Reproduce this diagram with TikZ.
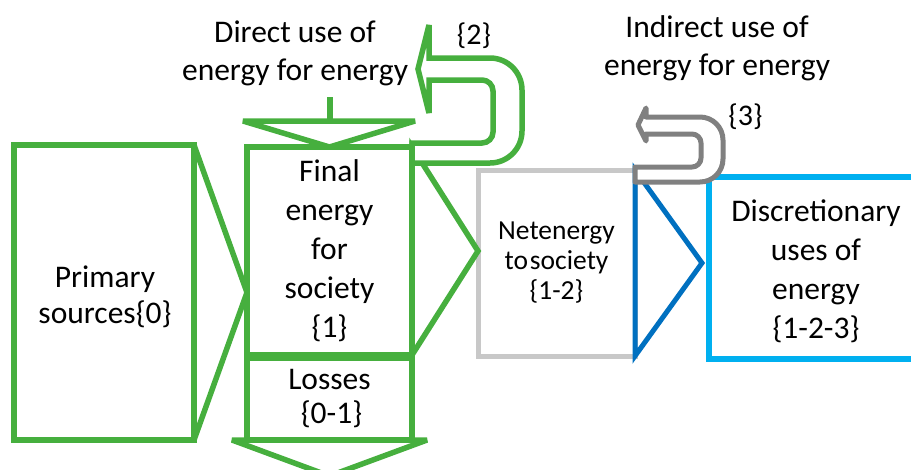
\documentclass[tikz,border=0pt]{standalone}
\usepackage{fontspec}
\setmainfont{Carlito}
\usetikzlibrary{calc}
\definecolor{grn}{RGB}{70,175,62}
\definecolor{lgray}{RGB}{200,200,200}
\definecolor{dgray}{RGB}{128,128,128}
\definecolor{dblue}{RGB}{0,112,192}
\definecolor{lblue}{RGB}{0,176,240}
\begin{document}
\begin{tikzpicture}[x=1pt,y=-1pt,
  gline/.style={draw=grn, line width=5.5pt, line join=miter, miter limit=4},
  boxg/.style={rectangle, draw=grn, line width=5.5pt, inner sep=0pt, outer sep=0pt, align=center},
  txt/.style={inner sep=0pt, outer sep=0pt, align=center, text=black},
  big/.style={font=\fontsize{31.5}{#1}\selectfont},
]
\useasboundingbox (0,0) rectangle (911,469);
\clip (0,0) rectangle (911,469);

% boxes
\node[boxg, minimum width=180pt, minimum height=295pt] (prim) at (104,292.5) {};
\node[txt, big=36] (primtxt) at (105,297) {Primary\\sources\{0\}};
\node[boxg, minimum width=165pt, minimum height=208pt, big=39] (fin) at (329.5,251) {Final\\energy\\for\\society\\\{1\}};
\node[boxg, minimum width=165pt, minimum height=82pt, big=34] (los) at (329.5,399) {Losses\\\hspace*{4pt}\{0-1\}};
\node[rectangle, draw=lgray, line width=5pt, inner sep=0pt, outer sep=0pt, align=center,
      minimum width=157pt, minimum height=186pt, font=\fontsize{27.5}{30}\selectfont]
      (net) at (556.5,263) {Netenergy\\to{\kern2pt}society\\\{1-2\}};
\node[rectangle, draw=lblue, line width=6pt, inner sep=0pt, outer sep=0pt,
      minimum width=251pt, minimum height=182pt] (disc) at (834.5,268) {};
\node[txt, big=39] (disctxt) at (816,271) {Discretionary\\uses of\\energy\\\{1-2-3\}};

% chevrons
\draw[gline] (prim.north east) -- (prim.east -| fin.west) -- (prim.south east) -- cycle;
\draw[gline] (fin.north east) -- (fin.east -| net.west) -- (fin.south east) -- cycle;
\draw[draw=dblue, line width=5pt, line join=miter, miter limit=4]
  (net.north east) -- ($(net.east -| disc.west)+(-7,0)$) -- (net.south east) -- cycle;

% losses arrow
\draw[gline] ($(los.south west)+(-15,0)$) -- ($(los.south east)+(15,0)$) -- ($(los.south)+(0,36)$) -- cycle;

% direct use arrow into final
\coordinate (dtop) at (329.5,97);
\coordinate (dbase) at (329.5,121);
\draw[draw=grn, line width=6pt] (dtop) -- (dbase);
\draw[gline] ($(dbase -| fin.west)+(-4,0)$) -- ($(dbase -| fin.east)+(3,0)$) -- (fin.north) -- cycle;

% green U-turn arrow {2}
\draw[gline, fill=white]
  (429,58) -- (490,58) .. controls (507.7,58) and (522,72.3) .. (522,90)
  -- (522,131) .. controls (522,148.7) and (507.7,163) .. (490,163)
  -- (412,163) -- (412,143) -- (482,143)
  .. controls (488.1,143) and (493,138.1) .. (493,132)
  -- (493,91) .. controls (493,84.9) and (488.1,80) .. (482,80)
  -- (429,80) -- (429,113) -- (418,69) -- (429,25) -- cycle;

% gray U-turn arrow {3}
\draw[draw=dgray, line width=5pt, line join=round, fill=white]
  (646,117) -- (700,117) .. controls (712.7,117) and (723,127.3) .. (723,140)
  -- (723,159) .. controls (723,171.7) and (712.7,182) .. (700,182)
  -- (635,182) -- (635,167) -- (692,167)
  .. controls (697,167) and (701,163) .. (701,158)
  -- (701,143) .. controls (701,138) and (697,134) .. (692,134)
  -- (646,134) -- (646,141) -- (638,125) -- (646,108) -- cycle;

% labels
\node[txt, big=38] (direct) at (295,53.5) {Direct use of\\energy for energy};
\node[txt, big=38] (indirect) at (717,48.5) {Indirect use of\\energy for energy};
\node[txt, font=\fontsize{30}{36}\selectfont] (n2) at (474,36) {\{2\}};
\node[txt, font=\fontsize{30}{36}\selectfont] (n3) at (745.5,116.5) {\{3\}};
\end{tikzpicture}
\end{document}
